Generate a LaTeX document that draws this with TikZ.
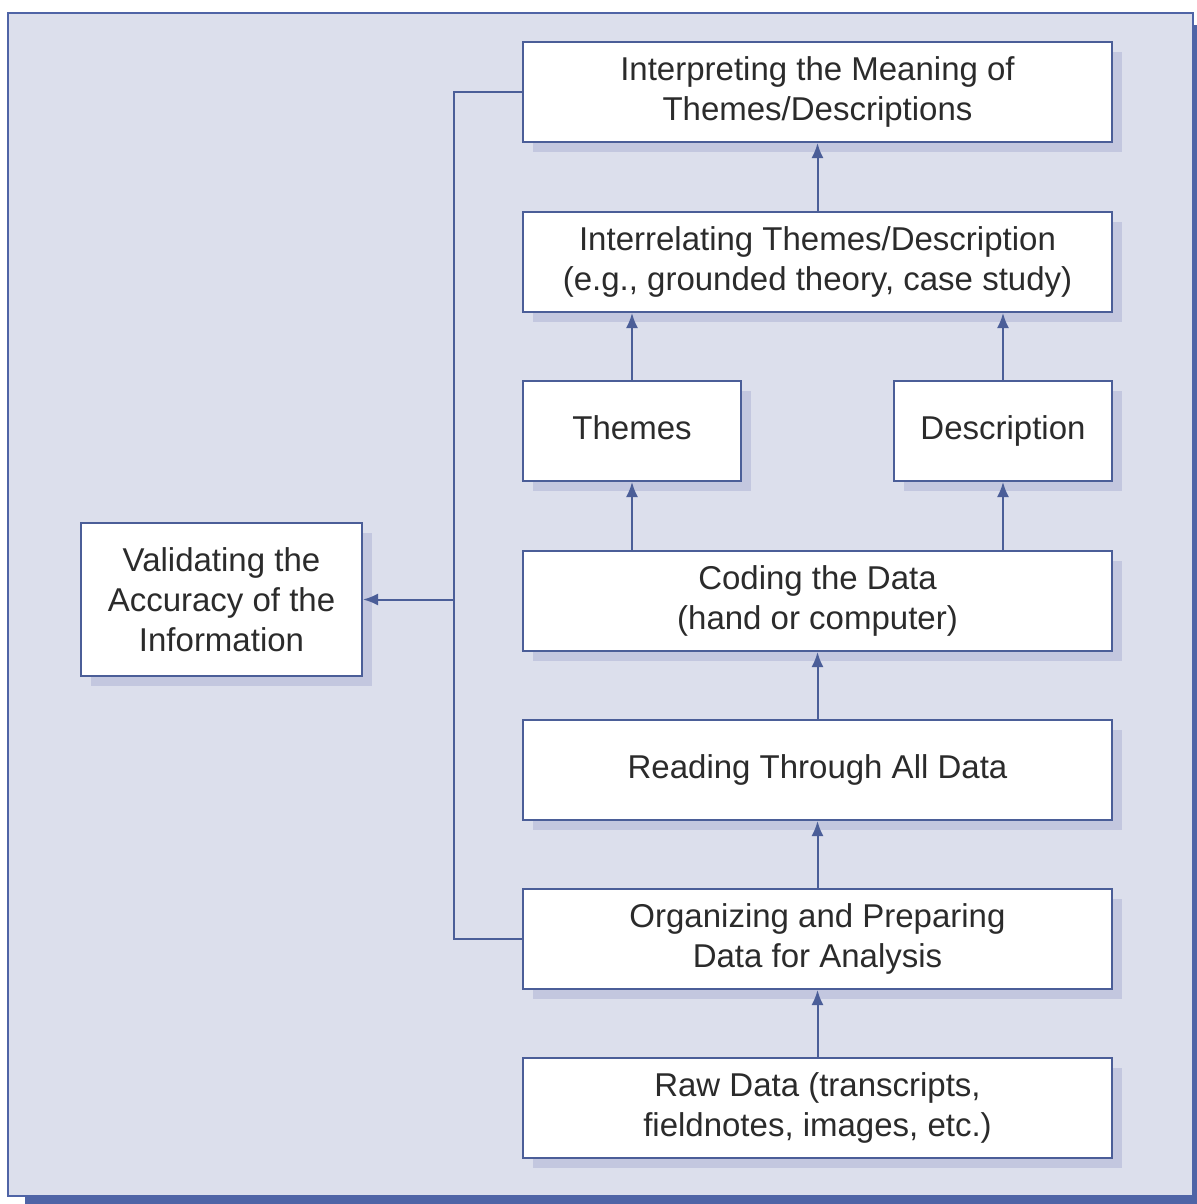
\documentclass[tikz,border=0pt]{standalone}
\usepackage{fontspec}
\setmainfont{Liberation Sans}
\usepackage{xcolor}
\usetikzlibrary{shadows,arrows.meta}

\definecolor{bgcol}{HTML}{DCDFEC}
\definecolor{edgecol}{HTML}{4B5E98}
\definecolor{shadecol}{HTML}{C3C7DF}
\definecolor{framecol}{HTML}{4F64A6}
\definecolor{txtcol}{HTML}{2B2B2B}

\begin{document}
\begin{tikzpicture}
			[x=1pt,y=-1pt,
			 stepbox/.style={draw=edgecol,line width=2pt,fill=white,
				text=txtcol,align=center,inner sep=0pt,
				font=\fontsize{33}{40}\selectfont,
				drop shadow={shadow xshift=10pt,shadow yshift=-10pt,fill=shadecol,opacity=1}},
			 link/.style={draw=edgecol,line width=2pt},
			 every edge/.style={link,-{Latex[length=15pt,width=12pt]}}]
			\useasboundingbox (0,0) rectangle (1196,1204);
			% frame
			\fill[framecol] (25,25) rectangle (1210,1215);
			\draw[fill=bgcol,draw=framecol,line width=2pt] (8,13) rectangle (1193,1196);
			% boxes
			\node[stepbox,minimum width=589pt,minimum height=100pt] (interp) at (817.5,92)
				{Interpreting the Meaning of\\Themes/Descriptions};
			\node[stepbox,minimum width=589pt,minimum height=100pt] (interrel) at (817.5,262)
				{Interrelating Themes/Description\\(e.g., grounded theory, case study)};
			\node[stepbox,minimum width=218pt,minimum height=100pt] (themes) at (632,431) {\strut Themes};
			\node[stepbox,minimum width=218pt,minimum height=100pt] (descr) at (1003,431) {\strut Description};
			\node[stepbox,minimum width=589pt,minimum height=100pt] (coding) at (817.5,601)
				{Coding the Data\\(hand or computer)};
			\node[stepbox,minimum width=589pt,minimum height=100pt] (reading) at (817.5,770)
				{\strut Reading Through All Data};
			\node[stepbox,minimum width=589pt,minimum height=100pt] (organ) at (817.5,939)
				{Organizing and Preparing\\Data for Analysis};
			\node[stepbox,minimum width=589pt,minimum height=100pt] (raw) at (817.5,1108)
				{Raw Data (transcripts,\\fieldnotes, images, etc.)};
			\node[stepbox,minimum width=281pt,minimum height=153pt] (valid) at (221.5,599.5)
				{Validating the\\Accuracy of the\\Information};
			% connectors
			\coordinate (vx) at (454,599.5);
			\draw[link] (interp.west) -| (vx) |- (organ.west);
			\draw (vx) edge (valid.east);
			\draw (raw) edge (organ);
			\draw (organ) edge (reading);
			\draw (reading) edge (coding);
			\draw (themes.south |- coding.north) edge (themes.south);
			\draw (descr.south |- coding.north) edge (descr.south);
			\draw (themes.north) edge (themes.north |- interrel.south);
			\draw (descr.north) edge (descr.north |- interrel.south);
			\draw (interrel) edge (interp);
		\end{tikzpicture}
\end{document}
